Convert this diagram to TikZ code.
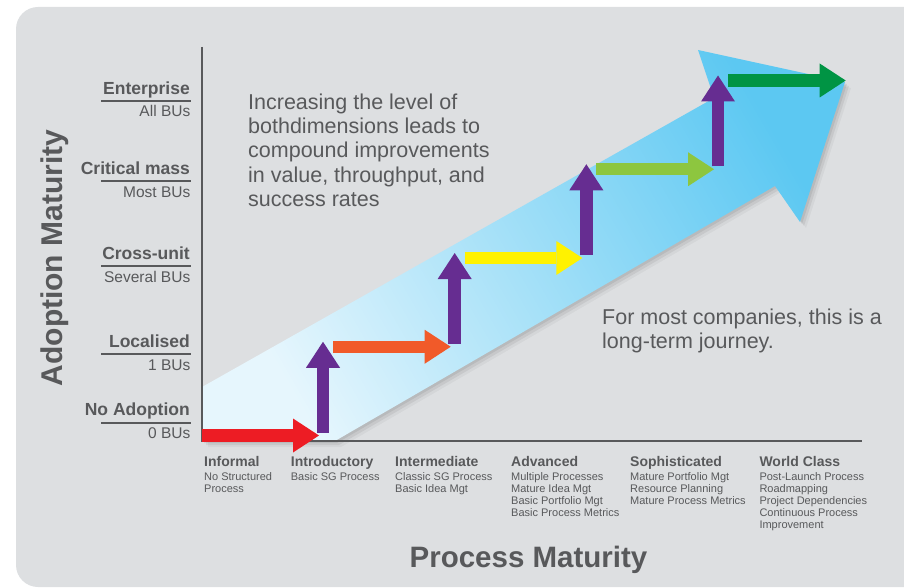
\documentclass[tikz,border=0pt]{standalone}
\usepackage{fontspec}
\setmainfont{Liberation Sans}
\usetikzlibrary{arrows.meta}
\usepackage{xcolor}

\definecolor{panel}{HTML}{DDDFE1}
\definecolor{ink}{HTML}{58595B}
\definecolor{stepred}{HTML}{ED1C24}
\definecolor{steporange}{HTML}{F15A29}
\definecolor{stepyellow}{HTML}{FFF200}
\definecolor{steplime}{HTML}{8DC63F}
\definecolor{stepgreen}{HTML}{009444}
\definecolor{steppurple}{HTML}{662D91}
\definecolor{bandlight}{HTML}{E6F6FD}
\definecolor{banddark}{HTML}{5CC8F2}

\tikzset{
  band outline/.style={insert path={(202,387) -- (714,98) -- (698,50) -- (845,82) -- (800,222) -- (775,186) -- (335,441) -- (202,441) -- cycle}},
  steparrow/.style={line width=12.5pt, -{Triangle[width=34pt, length=26pt, line width=0pt]}},
  levellabel/.style={anchor=base east, inner sep=0pt, text=ink, font=\fontsize{17.5}{20}\selectfont\bfseries},
  levelsub/.style={anchor=base east, inner sep=0pt, text=ink, font=\fontsize{15.5}{18}\selectfont},
  stagelabel/.style={anchor=base west, inner sep=0pt, text=ink, font=\fontsize{14}{16}\selectfont\bfseries},
  stagesub/.style={anchor=north west, inner sep=0pt, align=left, text=ink, font=\fontsize{11}{12}\selectfont},
  note/.style={anchor=north west, inner sep=0pt, align=left, text=ink, font=\fontsize{21.5}{24.4}\selectfont},
  axistitle/.style={anchor=base, inner sep=0pt, text=ink, font=\fontsize{30}{32}\selectfont\bfseries},
}

\begin{document}
\begin{tikzpicture}[x=1pt, y=-1pt]
    \useasboundingbox (0,0) rectangle (904,588);
    % Fundo
    \fill[panel, rounded corners=22pt] (16,7) rectangle (940,587);
    % Seta grande
    \foreach \d/\o in {2/0.07, 4/0.06, 6/0.04}
        \fill[black, opacity=\o, shift={(\d,\d)}, band outline];
    \shade[top color=banddark, bottom color=bandlight, shading angle=-60, band outline];
    % Eixos
    \coordinate (origin) at (202,441);
    \coordinate (ytop) at (202,47);
    \coordinate (xend) at (862,441);
    \draw[ink, line width=2.5pt] (ytop) -- (origin) -- (xend);
    % Degraus
    \foreach \c [count=\i from 0] in {stepred,steporange,stepyellow,steplime,stepgreen} {
        \pgfmathsetmacro\yh{435.5-88.75*\i}
        \pgfmathsetmacro\xs{\i==0 ? 202 : 323+131.67*(\i-1)+10}
        \pgfmathsetmacro\xt{323+131.67*\i-4}
        \coordinate (h\i s) at (\xs,\yh);
        \coordinate (h\i t) at (\xt,\yh);
        \draw[steparrow, \c] (h\i s) -- (h\i t);
    }
    \foreach \i in {0,...,3} {
        \pgfmathsetmacro\xv{323+131.67*\i}
        \coordinate (v\i s) at (\xv,{435.5-88.75*\i-3});
        \coordinate (v\i t) at (\xv,{435.5-88.75*(\i+1)-5});
        \draw[steparrow, steppurple] (v\i s) -- (v\i t);
    }
    % Niveis de adocao
    \foreach \name/\sub/\yb [count=\i] in {No Adoption/0 BUs/415.7, Localised/1 BUs/347.3, Cross-unit/Several BUs/259.3, Critical mass/Most BUs/174.3, Enterprise/All BUs/94.3} {
        \node[levellabel] (lvl\i) at (190,\yb) {\name};
        \draw[ink, line width=2pt] (101,{\yb+7}) -- (191,{\yb+7});
        \node[levelsub] (lsub\i) at (190.5,{\yb+22.7}) {\sub};
    }
    % Estagios do processo
    \foreach \name/\items/\x [count=\i] in {
        Informal/{No Structured\\Process}/204,
        Introductory/{Basic SG Process}/290.7,
        Intermediate/{Classic SG Process\\Basic Idea Mgt}/395,
        Advanced/{Multiple Processes\\Mature Idea Mgt\\Basic Portfolio Mgt\\Basic Process Metrics}/511,
        Sophisticated/{Mature Portfolio Mgt\\Resource Planning\\Mature Process Metrics}/630,
        World Class/{Post-Launch Process\\Roadmapping\\Project Dependencies\\Continuous Process\\Improvement}/759.3} {
        \node[stagelabel] (stage\i) at (\x,466.7) {\name};
        \node[stagesub] (ssub\i) at (\x,472.5) {\items};
    }
    % Textos
    \node[note] (noteboth) at (248,93.3) {Increasing the level of\\bothdimensions leads to\\compound improvements\\in value, throughput, and\\success rates};
    \node[note] (notejourney) at (602,308.3) {For most companies, this is a\\long-term journey.};
    \node[axistitle, rotate=90] (ytitle) at (62,258) {Adoption Maturity};
    \node[axistitle, font=\fontsize{29.5}{32}\selectfont\bfseries] (xtitle) at (528.5,567) {Process Maturity};
\end{tikzpicture}
\end{document}
